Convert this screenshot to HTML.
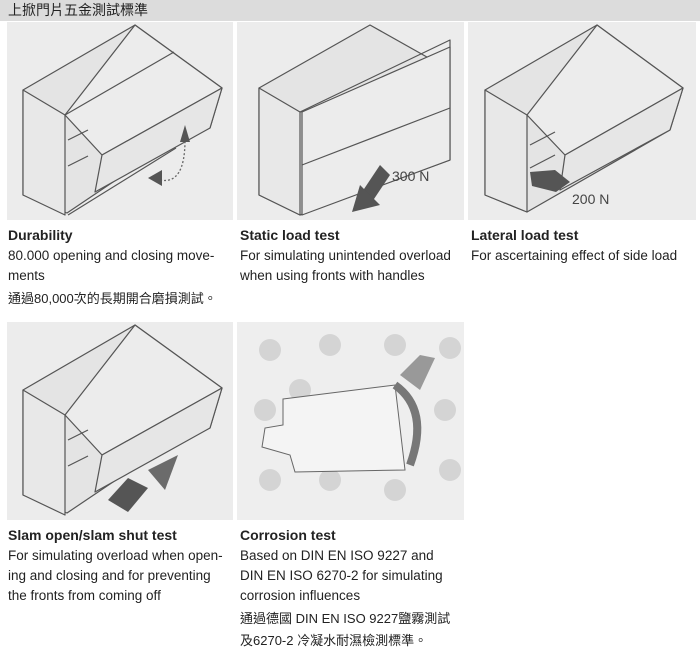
<!DOCTYPE html>
<html><head><meta charset="utf-8"><style>
body{margin:0;width:700px;height:653px;background:#fff;font-family:"Liberation Sans","Noto Sans CJK TC",sans-serif;color:#222;position:relative;overflow:hidden}
.hdr{position:absolute;left:0;top:0;width:700px;height:21px;background:#dcdcdc;font-size:14px;line-height:21px;padding-left:8px;box-sizing:border-box;color:#222}
.p{position:absolute;background:#ececec}
.t{position:absolute;font-size:13.5px;line-height:20px;color:#222}
.t b{font-size:14px}
svg{position:absolute;left:0;top:0}
</style></head><body>
<div class="hdr">上掀門片五金測試標準</div>
<div class="p" style="left:7px;top:22px;width:226px;height:198px"></div>
<div class="p" style="left:237px;top:22px;width:227px;height:198px"></div>
<div class="p" style="left:468px;top:22px;width:228px;height:198px"></div>
<div class="p" style="left:7px;top:322px;width:226px;height:198px"></div>
<div class="p" style="left:237px;top:322px;width:227px;height:198px;background:#eeeeee"></div>
<svg width="700" height="653" viewBox="0 0 700 653">
<g fill="#e4e4e4" stroke="#555" stroke-width="1.2" stroke-linejoin="round">
<!-- panel1 cabinet -->
<polygon points="23,90 135,25 222,88 210,128 150,157 67,213 23,195"/>
<polygon points="23,90 65,115 65,215 23,195" fill="#e8e8e8"/>
<polygon points="65,115 135,25 222,88 102,155" fill="#ececec"/>
<polygon points="102,155 222,88 210,128 95,192" fill="#e6e6e6"/>
<line x1="65" y1="115" x2="174" y2="52"/>
<polyline points="68,140 88,130" fill="none"/><polyline points="68,166 88,156" fill="none"/>
<line x1="68" y1="215" x2="176" y2="148"/>
<!-- panel2 -->
<polygon points="259,88 370,25 450,70 450,160 300,215 259,195"/>
<polygon points="259,88 300,112 300,215 259,195" fill="#e8e8e8"/>
<polygon points="300,112 450,40 450,70 300,112" fill="none"/>
<polygon points="302,112 450,47 450,160 302,215" fill="#ececec"/>
<line x1="302" y1="165" x2="450" y2="108"/>
<!-- panel3 -->
<polygon points="485,90 597,25 683,88 670,130 527,212 485,195"/>
<polygon points="485,90 527,115 527,212 485,195" fill="#e8e8e8"/>
<polygon points="527,115 597,25 683,88 565,155" fill="#ececec"/>
<polygon points="565,155 683,88 670,130 560,190" fill="#e6e6e6"/>
<line x1="530" y1="145" x2="555" y2="132"/><line x1="530" y1="168" x2="555" y2="155"/>
<!-- panel4 -->
<polygon points="23,390 135,325 222,388 210,428 150,457 67,513 23,495"/>
<polygon points="23,390 65,415 65,515 23,495" fill="#e8e8e8"/>
<polygon points="65,415 135,325 222,388 102,455" fill="#ececec"/>
<polygon points="102,455 222,388 210,428 95,492" fill="#e6e6e6"/>
<line x1="68" y1="440" x2="88" y2="430"/><line x1="68" y1="466" x2="88" y2="456"/>
</g>
<!-- arrows -->
<path d="M160,180 Q185,185 185,140" fill="none" stroke="#666" stroke-dasharray="2,2" stroke-width="1.3"/>
<polygon points="185,125 180,142 190,142" fill="#555"/>
<polygon points="148,178 162,170 162,186" fill="#555"/>
<polygon points="360,195 380,165 390,175 370,205" fill="#555"/>
<polygon points="352,212 360,185 380,205" fill="#555"/>
<text x="392" y="181" font-size="14" fill="#444" font-family="Liberation Sans">300 N</text>
<polygon points="530,172 555,170 570,182 556,192 532,186" fill="#555"/>
<text x="572" y="204" font-size="14" fill="#444" font-family="Liberation Sans">200 N</text>
<polygon points="108,500 128,478 148,488 128,512" fill="#555"/>
<polygon points="148,470 178,455 165,490" fill="#555" opacity=".85"/>
<!-- corrosion drops -->
<g fill="#d4d4d4">
<circle cx="270" cy="350" r="11"/><circle cx="330" cy="345" r="11"/><circle cx="395" cy="345" r="11"/><circle cx="450" cy="348" r="11"/>
<circle cx="265" cy="410" r="11"/><circle cx="300" cy="390" r="11"/><circle cx="445" cy="410" r="11"/>
<circle cx="270" cy="480" r="11"/><circle cx="330" cy="480" r="11"/><circle cx="395" cy="490" r="11"/><circle cx="450" cy="470" r="11"/>
</g>
<polygon points="283,399 395,385 405,470 295,472 290,455 262,447 265,428 283,425" fill="#f4f4f4" stroke="#666"/>
<path d="M395,385 Q430,410 410,465" fill="none" stroke="#777" stroke-width="8"/>
<polygon points="400,375 420,355 435,358 420,390" fill="#999"/>
</svg>
<div class="t" style="left:8px;top:225px"><b>Durability</b><br>80.000 opening and closing move-<br>ments</div>
<div class="t" style="left:8px;top:289px;font-size:13px">通過80,000次的長期開合磨損測試。</div>
<div class="t" style="left:240px;top:225px"><b>Static load test</b><br>For simulating unintended overload<br>when using fronts with handles</div>
<div class="t" style="left:471px;top:225px"><b>Lateral load test</b><br>For ascertaining effect of side load</div>
<div class="t" style="left:8px;top:525px"><b>Slam open/slam shut test</b><br>For simulating overload when open-<br>ing and closing and for preventing<br>the fronts from coming off</div>
<div class="t" style="left:240px;top:525px"><b>Corrosion test</b><br>Based on DIN EN ISO 9227 and<br>DIN EN ISO 6270-2 for simulating<br>corrosion influences</div>
<div class="t" style="left:240px;top:608px;font-size:13px;line-height:22px">通過德國 DIN EN ISO 9227鹽霧測試<br>及6270-2 冷凝水耐濕檢測標準。</div>
</body></html>
